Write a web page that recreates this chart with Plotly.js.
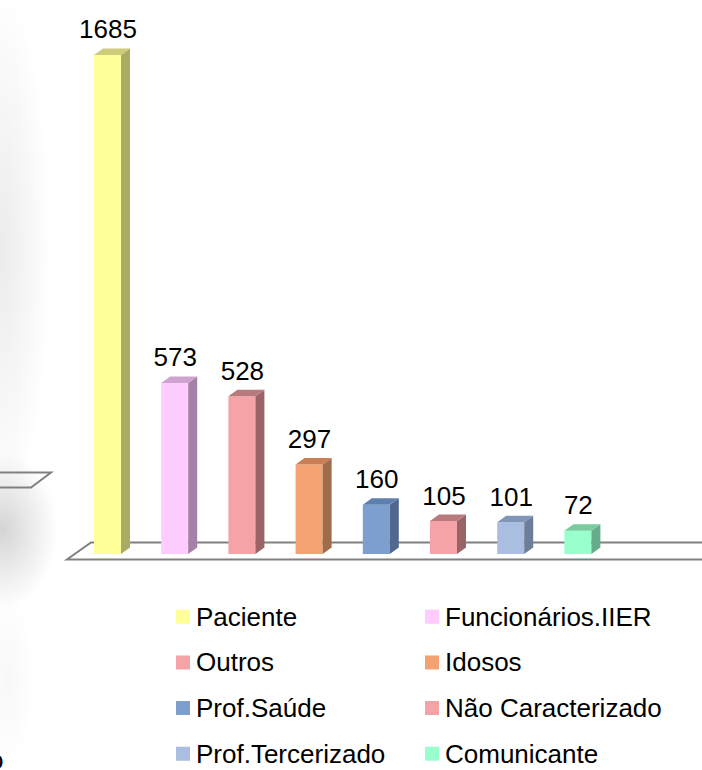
<!DOCTYPE html>
<html>
<head>
<meta charset="utf-8">
<script src="https://cdn.plot.ly/plotly-3.0.1.min.js"></script>
<style>
html,body{margin:0;padding:0;width:702px;height:770px;overflow:hidden;background:#fff}
#bg{position:absolute;left:0;top:0;width:702px;height:770px;
background:
 radial-gradient(ellipse 56px 78px at 2px 530px, rgba(170,170,170,.5), rgba(170,170,170,0) 100%),
 radial-gradient(ellipse 48px 260px at 2px 250px, rgba(190,190,190,.3), rgba(190,190,190,0) 100%),
 radial-gradient(ellipse 26px 90px at 8px 680px, rgba(210,210,210,.16), rgba(210,210,210,0) 100%);}
#chart{position:absolute;left:0;top:0;width:702px;height:770px}
#chart .legend .scrollbox{clip-path:none !important}
#chart .legend .legendsymbols{transform:translate(7px,4px)}
</style>
</head>
<body>
<div id="bg"></div>
<div id="chart"></div>
<script>
var categories = ["Paciente","Funcionários.IIER","Outros","Idosos","Prof.Saúde","Não Caracterizado","Prof.Tercerizado","Comunicante"];
var values = [1685,573,528,297,160,105,101,72];
var frontColors = ["#FFFF99","#FFCCFF","#F5A3A6","#F5A273","#7C9FD0","#F5A3A6","#A9BEE0","#99FFCC"];
var sideColors  = ["#ABAB66","#A780A7","#9A6467","#A06B4A","#50688E","#9A6467","#6C7E9A","#66AC8A"];
var topColors   = ["#CCCC7A","#CFA3CF","#B97A7D","#C97F55","#5F80AE","#B97A7D","#7F96B9","#7ACC9F"];

var W = 702, H = 770;
var stepPx = 67.2, firstPx = 107.5, zeroPx = 553, unitPx = 0.295;
var xR = [-firstPx/stepPx, (W-firstPx)/stepPx];
var yR = [(zeroPx-H)/unitPx, zeroPx/unitPx];
function xd(px){ return (px-firstPx)/stepPx; }
function yd(py){ return (zeroPx-py)/unitPx; }
var halfW = 13.5/stepPx, barW = 25/stepPx, dX = 9/stepPx, dY = 6.5/unitPx;

var traces = [];
categories.forEach(function(c,i){
  traces.push({type:"bar",x:[i],y:[values[i]],width:barW,name:'<span style="font-size:26px">'+c+'</span>',
    marker:{color:frontColors[i],line:{color:frontColors[i],width:2}},hoverinfo:"skip"});
});
categories.forEach(function(c,i){
  var r=i+halfW, v=values[i], b=-1/unitPx, t=v+1/unitPx, l=i-halfW;
  traces.push({type:"scatter",mode:"lines",x:[r,r+dX,r+dX,r,r],y:[b,b+dY,t+dY,t,b],fill:"toself",
    fillcolor:sideColors[i],line:{width:0},showlegend:false,hoverinfo:"skip"});
  traces.push({type:"scatter",mode:"lines",x:[l,l+dX,r+dX,r,l],y:[t,t+dY,t+dY,t,t],fill:"toself",
    fillcolor:topColors[i],line:{width:0},showlegend:false,hoverinfo:"skip"});
});
traces.push({type:"scatter",mode:"text",x:categories.map(function(c,i){return i+dX/2-0.06;}),
  y:values.map(function(v){return v+dY+4.5/unitPx;}),text:values.map(String),textposition:"top center",
  textfont:{family:"Liberation Sans, Arial, sans-serif",size:26,color:"#000"},showlegend:false,hoverinfo:"skip",cliponaxis:false});

var floorLine = {color:"#808080",width:2};
var shapes = [
  {type:"path",layer:"below",xref:"x",yref:"y",line:floorLine,
   path:"M"+xd(702)+","+yd(559.5)+"L"+xd(67)+","+yd(559.5)+"L"+xd(91)+","+yd(542.5)+"L"+xd(702)+","+yd(542.5)},
  {type:"path",layer:"below",xref:"x",yref:"y",line:floorLine,
   path:"M"+xd(0)+","+yd(472.5)+"L"+xd(51)+","+yd(472.5)+"L"+xd(31)+","+yd(487.5)+"L"+xd(0)+","+yd(487.5)}
];

var layout = {
  width:W,height:H,margin:{l:0,r:0,t:0,b:0,pad:0,autoexpand:false},autosize:false,
  paper_bgcolor:"rgba(0,0,0,0)",plot_bgcolor:"rgba(0,0,0,0)",
  font:{family:"Liberation Sans, Arial, sans-serif",color:"#000"},
  bargap:0,barmode:"overlay",
  xaxis:{range:xR,visible:false,fixedrange:true},
  yaxis:{range:yR,visible:false,fixedrange:true},
  shapes:shapes,
  showlegend:true,
  legend:{orientation:"h",x:156/W,xanchor:"left",y:(H-585)/H,yanchor:"top",
    entrywidth:204,entrywidthmode:"pixels",traceorder:"normal",
    bgcolor:"rgba(0,0,0,0)",borderwidth:0,font:{size:32.8,color:"#000"}},
  annotations:[{xref:"paper",yref:"paper",x:5/W,y:(H-760)/H,xanchor:"right",yanchor:"middle",showarrow:false,
    text:"o",font:{size:26,color:"#000"}}]
};
Plotly.newPlot("chart",traces,layout,{displayModeBar:false,staticPlot:true});
</script>
</body>
</html>
